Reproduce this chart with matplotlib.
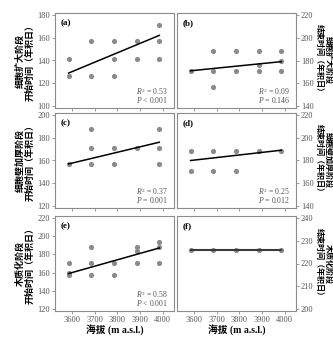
import numpy as np
import matplotlib
matplotlib.use("Agg")
import matplotlib.pyplot as plt

plt.rcParams['font.family'] = ['Liberation Serif', 'Noto Sans CJK SC']
plt.rcParams['mathtext.fontset'] = 'custom'
plt.rcParams['mathtext.rm'] = 'Liberation Serif'
plt.rcParams['mathtext.it'] = 'Liberation Serif:italic'

# 海拔梯度上的采样点
elev = [3585, 3685, 3785, 3885, 3985]

# 每个面板: 各海拔的观测值 (年积日)
a_x = [3585, 3585, 3685, 3685, 3785, 3785, 3785, 3885, 3885, 3985, 3985, 3985]
a_y = [141, 126, 157, 126, 157, 141, 126, 157, 141, 171, 157, 141]
b_x = [3585, 3685, 3685, 3685, 3785, 3785, 3885, 3885, 3885, 3985, 3985, 3985]
b_y = [171, 188, 171, 157, 188, 171, 188, 176, 171, 188, 180, 171]
c_x = [3585, 3685, 3685, 3685, 3785, 3785, 3885, 3985, 3985, 3985]
c_y = [157, 188, 171, 157, 171, 157, 171, 188, 171, 157]
d_x = [3585, 3585, 3685, 3685, 3785, 3785, 3885, 3985]
d_y = [188, 171, 188, 171, 188, 171, 188, 188]
e_x = [3585, 3585, 3585, 3685, 3685, 3685, 3785, 3785, 3885, 3885, 3885, 3985, 3985, 3985]
e_y = [171, 160, 157, 188, 171, 157, 171, 157, 188, 184, 171, 193, 188, 171]
f_x = [3585, 3685, 3785, 3885, 3985]
f_y = [226, 226, 226, 226, 226]

# 回归线两端的值
fit_a = [129, 162]
fit_b = [171, 179]
fit_c = [157, 176]
fit_d = [180, 189]
fit_e = [159, 187]
fit_f = [226, 226]

stats = {
    'a': ('0.53', '< 0.001'),
    'b': ('0.09', '= 0.146'),
    'c': ('0.37', '= 0.001'),
    'd': ('0.25', '= 0.012'),
    'e': ('0.58', '< 0.001'),
}

panels = [
    ('a', a_x, a_y, fit_a, (100, 180, 20), '细胞扩大阶段\n开始时间（年积日）', 'left'),
    ('b', b_x, b_y, fit_b, (140, 220, 20), '细胞扩大阶段\n结束时间（年积日）', 'right'),
    ('c', c_x, c_y, fit_c, (120, 200, 20), '细胞壁加厚阶段\n开始时间（年积日）', 'left'),
    ('d', d_x, d_y, fit_d, (140, 220, 20), '细胞壁加厚阶段\n结束时间（年积日）', 'right'),
    ('e', e_x, e_y, fit_e, (120, 220, 20), '木质化阶段\n开始时间（年积日）', 'left'),
    ('f', f_x, f_y, fit_f, (200, 240, 10), '木质化阶段\n结束时间（年积日）', 'right'),
]

W, H = 333, 342
fig = plt.figure(figsize=(W / 100, H / 100), dpi=100)

col_x = [55, 177]
col_w = 119
row_top = [13, 113, 216]
row_h = 95

spine_c = '#8c8c8c'
cjk = ['Noto Sans CJK SC', 'DejaVu Sans']

for i, (tag, xs, ys, fit, (y0, y1, step), ylab, side) in enumerate(panels):
    r, c = divmod(i, 2)
    ax = fig.add_axes([col_x[c] / W, 1 - (row_top[r] + row_h) / H, col_w / W, row_h / H])
    pad = (y1 - y0) * 0.02
    ax.set_ylim(y0 - pad, y1 + pad)
    ax.set_yticks(np.arange(y0, y1 + 1, step))
    ax.set_xlim(3525, 4050)
    ax.set_xticks([3600, 3700, 3800, 3900, 4000])

    ax.scatter(xs, ys, s=14, color='#8a8a8a', zorder=2, linewidths=0)
    lw = 1.5 if tag == 'f' else 1.1
    lc = '#3a3a3a' if tag == 'f' else 'black'
    ax.plot([elev[0], elev[-1]], fit, color=lc, lw=lw, zorder=3)

    for s in ax.spines.values():
        s.set_color(spine_c)
        s.set_linewidth(0.8)
    ax.tick_params(length=2, width=0.6, color=spine_c, labelsize=6,
                   labelcolor='#555555', pad=1.5)
    if side == 'right':
        ax.yaxis.tick_right()
        ax.yaxis.set_label_position('right')
        ax.set_ylabel(ylab, family=cjk, fontsize=5.8, fontweight='bold',
                      rotation=270, labelpad=1, linespacing=1.0, va='bottom')
    else:
        ax.set_ylabel(ylab, family=cjk, fontsize=6.5, fontweight='bold',
                      labelpad=2, linespacing=1.1)
    if r < 2:
        ax.set_xticklabels([])
    else:
        ax.set_xlabel('海拔 (m a.s.l.)', fontsize=7, fontweight='bold', labelpad=0)

    ax.text(0.05, 0.93, f'({tag})', transform=ax.transAxes, fontsize=6.5,
            fontweight='bold', va='top', ha='left')
    if tag in stats:
        r2, p = stats[tag]
        ax.text(0.95, 0.175, f'$R^2$ = {r2}', transform=ax.transAxes, fontsize=5.6,
                color='#555555', ha='right', va='center')
        ax.text(0.95, 0.08, f'$P$ {p}', transform=ax.transAxes, fontsize=5.6,
                color='#555555', ha='right', va='center')

fig.savefig('out.png', dpi=100)
